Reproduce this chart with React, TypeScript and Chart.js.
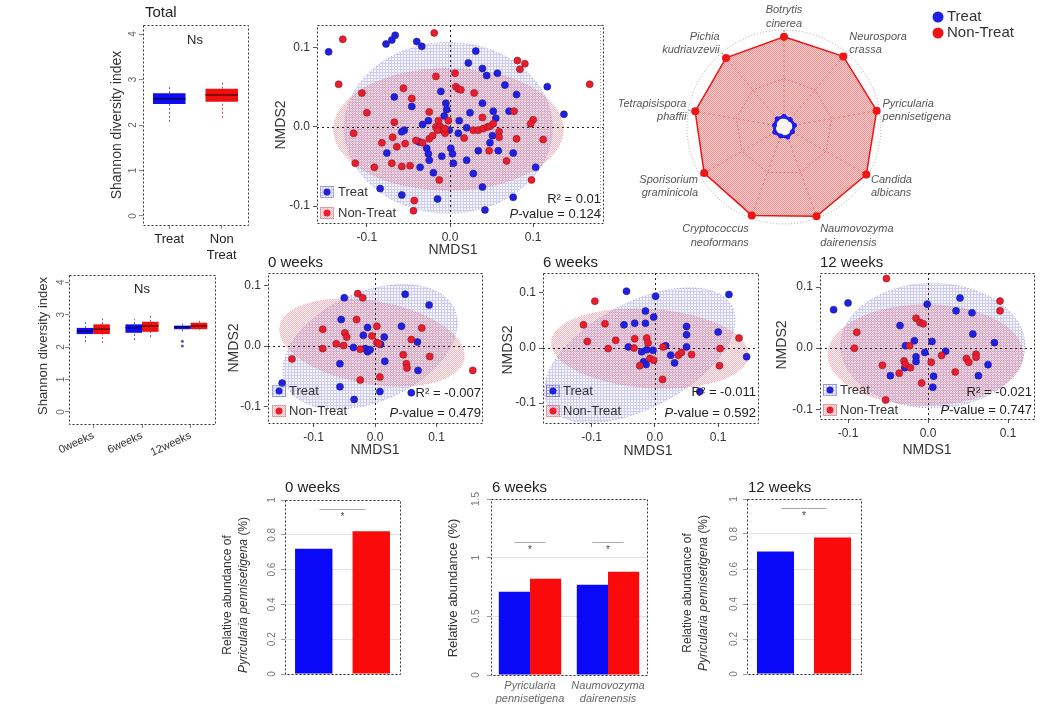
import React, { useEffect, useRef } from "react";
import { Chart, registerables } from "chart.js";

Chart.register(...registerables);

const FONT = "'Liberation Sans', Arial, Helvetica, sans-serif";
Chart.defaults.font.family = FONT;

/* ======================= DATA ======================= */
// Shannon diversity boxplots: [lowerWhisker, q1, median, q3, upperWhisker]
const totalGroups = ["Treat", ["Non", "Treat"]];
const totalTreatBox = [2.07, 2.46, 2.58, 2.7, 2.86];
const totalNonTreatBox = [2.16, 2.51, 2.66, 2.8, 2.97];
const shannonTicks = [0, 1, 2, 3, 4];

const timeGroups = ["0weeks", "6weeks", "12weeks"];
const timeTreatBoxes = [
  [2.15, 2.4, 2.49, 2.59, 2.83],
  [2.22, 2.44, 2.6, 2.7, 2.86],
  [2.48, 2.55, 2.62, 2.66, 2.78],
];
const timeNonTreatBoxes = [
  [2.12, 2.4, 2.55, 2.7, 2.89],
  [2.3, 2.47, 2.65, 2.78, 2.98],
  [2.52, 2.55, 2.65, 2.75, 2.83],
];
const timeTreatOutliers = [[], [], [2.18, 2.03]];
const timeNonTreatOutliers = [[], [], []];

// NMDS ordinations
const nmdsTicks = [-0.1, 0, 0.1];
const totalTreat = [
  [-0.146, 0.095], [-0.077, 0.105], [-0.07, 0.11], [-0.066, 0.116], [-0.04, 0.108], [-0.034, 0.102],
  [0.031, 0.096], [0.022, 0.081], [0.039, 0.074], [0.044, 0.065], [0.057, 0.068], [0.066, 0.053],
  [0.08, 0.041], [0.117, 0.051], [0.137, 0.016], [-0.067, 0.038], [-0.046, 0.026], [-0.011, 0.045],
  [-0.005, 0.03], [-0.004, 0.022], [-0.007, 0.014], [0.024, 0.018], [0.039, 0.03], [0.052, 0.02],
  [0.055, 0.011], [0.071, 0.02], [-0.055, -0.004], [-0.058, -0.006], [-0.033, 0.003], [-0.026, 0.008],
  [-0.001, -0.004], [0.011, 0.008], [0.01, -0.008], [0.02, -0.001], [-0.076, -0.033], [-0.037, -0.019],
  [-0.028, -0.027], [-0.026, -0.034], [-0.025, -0.042], [-0.01, -0.037], [0.001, -0.027], [0.003, -0.034],
  [0.004, -0.046], [0.02, -0.042], [0.034, -0.03], [0.048, -0.02], [0.058, -0.03], [0.076, -0.033],
  [-0.036, -0.051], [-0.02, -0.058], [0.028, -0.059], [0.039, -0.076], [0.103, -0.051], [-0.084, -0.078],
  [-0.058, -0.086], [-0.015, -0.091], [0.042, -0.105], [0.076, -0.089], [0.051, -0.011],
];
const totalNonTreat = [
  [-0.129, 0.111], [-0.019, 0.119], [-0.134, 0.054], [-0.106, 0.043], [-0.1, 0.018], [-0.116, -0.008],
  [-0.114, -0.046], [-0.091, -0.051], [-0.067, 0.006], [-0.056, 0.049], [-0.046, 0.036], [-0.069, -0.013],
  [-0.064, -0.025], [-0.082, -0.02], [-0.07, -0.046], [-0.058, -0.05], [-0.048, -0.049], [-0.054, -0.021],
  [-0.041, -0.017], [-0.033, -0.02], [-0.025, -0.015], [-0.021, -0.011], [-0.025, 0.019], [-0.017, 0.064],
  [-0.017, 0.0], [-0.012, 0.001], [-0.009, -0.004], [-0.006, -0.008], [-0.014, 0.008], [-0.002, 0.008],
  [0.006, 0.068], [0.007, 0.051], [0.01, 0.048], [0.013, 0.047], [0.029, 0.043], [0.039, 0.012],
  [0.028, -0.004], [0.034, -0.004], [0.04, -0.002], [0.045, 0.0], [0.048, 0.001], [0.052, 0.004],
  [0.059, -0.006], [0.059, -0.013], [0.017, -0.014], [0.047, -0.03], [0.068, -0.043], [0.08, -0.015],
  [0.077, 0.02], [0.1, 0.009], [0.097, 0.004], [0.112, -0.016], [0.081, 0.084], [0.09, 0.08],
  [0.084, 0.073], [0.168, 0.054], [0.098, -0.067], [-0.013, -0.067], [-0.043, -0.093], [-0.044, -0.106],
  [-0.006, -0.002], [-0.015, -0.004],
];
// ellipses: [centerX, centerY, radiusX, radiusY, angleDeg]
const totalEllTreat = [-0.002, -0.001, 0.125, 0.108, 0];
const totalEllNonTreat = [-0.002, -0.003, 0.138, 0.077, 0];
const totalStats = ["0.01", "0.124"];

const w0Treat = [
  [-0.05, 0.08], [0.049, 0.086], [0.088, 0.068], [-0.055, 0.044], [-0.012, 0.031], [-0.019, 0.018],
  [0.015, 0.015], [0.009, 0.003], [0.043, 0.033], [0.069, 0.007], [-0.035, -0.002], [-0.016, -0.004],
  [-0.012, -0.009], [-0.008, -0.006], [0.016, -0.025], [-0.057, -0.029], [0.07, -0.04], [-0.057, -0.067],
  [0.008, -0.075], [-0.034, -0.088], [0.059, -0.077], [-0.151, -0.061],
];
const w0NonTreat = [
  [-0.028, 0.087], [-0.02, 0.08], [-0.03, 0.044], [0.003, 0.033], [0.076, 0.03], [-0.085, 0.028],
  [-0.049, 0.022], [-0.046, 0.015], [-0.005, 0.017], [0.003, 0.006], [0.006, 0.004], [0.059, 0.011],
  [-0.063, 0.004], [-0.051, 0.001], [-0.085, -0.004], [-0.024, -0.005], [0.046, -0.014], [0.089, -0.017],
  [0.051, -0.029], [0.052, -0.036], [0.008, -0.051], [-0.024, -0.056], [-0.135, -0.021], [0.159, -0.04],
];
const w0EllTreat = [-0.008, -0.001, 0.15, 0.09, 24];
const w0EllNonTreat = [-0.005, 0.006, 0.152, 0.068, -10];
const w0Stats = ["-0.007", "0.479"];

const w6Treat = [
  [-0.045, 0.103], [0.001, 0.094], [0.117, 0.097], [-0.015, 0.067], [-0.002, 0.056], [-0.049, 0.042],
  [-0.032, 0.045], [-0.015, 0.045], [0.05, 0.039], [0.05, 0.024], [0.1, 0.029], [-0.042, 0.002],
  [-0.021, -0.007], [-0.013, -0.003], [-0.003, -0.004], [0.017, 0.004], [0.025, -0.013], [0.031, -0.027],
  [0.05, 0.002], [-0.018, -0.025], [-0.014, -0.03], [0.145, -0.016], [0.071, -0.079],
];
const w6NonTreat = [
  [-0.095, 0.085], [-0.113, 0.042], [-0.079, 0.044], [-0.107, 0.012], [-0.062, 0.014], [-0.074, -0.001],
  [-0.032, 0.017], [-0.013, 0.018], [-0.011, 0.009], [-0.033, 0.0], [-0.008, -0.019], [-0.002, -0.022],
  [-0.024, -0.032], [0.012, -0.057], [0.013, 0.002], [0.037, -0.013], [0.042, -0.008], [0.058, -0.012],
  [0.103, -0.001], [0.102, -0.032], [0.133, 0.018],
];
const w6EllTreat = [-0.024, -0.013, 0.165, 0.095, 28];
const w6EllNonTreat = [-0.008, -0.001, 0.156, 0.071, -4];
const w6Stats = ["-0.011", "0.592"];

const w12Treat = [
  [-0.118, 0.063], [-0.1, 0.074], [-0.001, 0.072], [0.04, 0.082], [0.035, 0.061], [0.055, 0.058],
  [-0.035, 0.037], [0.056, 0.023], [0.083, 0.009], [0.005, 0.011], [-0.017, 0.012], [-0.028, 0.004],
  [-0.004, -0.007], [-0.015, -0.014], [-0.015, -0.022], [0.022, -0.005], [-0.029, -0.032], [-0.047, -0.045],
  [0.007, -0.046], [0.006, -0.064], [0.075, -0.027], [0.063, -0.045],
];
const w12NonTreat = [
  [-0.052, 0.114], [0.09, 0.077], [0.09, 0.061], [-0.015, 0.049], [-0.01, 0.042], [-0.006, 0.04],
  [-0.089, 0.026], [-0.092, 0.0], [-0.023, 0.004], [-0.03, -0.021], [-0.028, -0.027], [-0.022, -0.032],
  [-0.036, -0.041], [-0.057, -0.028], [0.004, -0.023], [0.017, -0.012], [0.034, -0.039], [0.048, -0.017],
  [0.051, -0.023], [0.06, -0.01], [0.06, -0.015], [-0.008, -0.057], [-0.053, -0.085],
];
const w12EllTreat = [0.006, 0.004, 0.115, 0.102, 0];
const w12EllNonTreat = [-0.003, -0.011, 0.122, 0.082, 0];
const w12Stats = ["-0.021", "0.747"];

// Radar
const radarLabels = [
  ["Botrytis", "cinerea"],
  ["Neurospora", "crassa"],
  ["Pyricularia", "pennisetigena"],
  ["Candida", "albicans"],
  ["Naumovozyma", "dairenensis"],
  ["Cryptococcus", "neoformans"],
  ["Sporisorium", "graminicola"],
  ["Tetrapisispora", "phaffii"],
  ["Pichia", "kudriavzevii"],
];
const radarTreat = [0.11, 0.1, 0.11, 0.1, 0.11, 0.1, 0.11, 0.1, 0.11];
const radarNonTreat = [0.93, 0.95, 0.97, 0.98, 0.98, 0.97, 0.95, 0.93, 0.93];

// Relative abundance bars
const w0BarGroups = ["Treat", "Non-Treat"];
const w0BarValues = [0.72, 0.82];
const w0SigY = 0.95;
const w0SigLabel = "*";
const barTicks01 = [0, 0.2, 0.4, 0.6, 0.8, 1];

const w6Species = [["Pyricularia", "pennisetigena"], ["Naumovozyma", "dairenensis"]];
const w6BarTreat = [0.71, 0.77];
const w6BarNonTreat = [0.82, 0.88];
const w6SigY = 1.13;
const w6SigLabels = ["*", "*"];
const barTicks15 = [0, 0.5, 1, 1.5];

const w12BarGroups = ["Treat", "Non-Treat"];
const w12BarValues = [0.7, 0.78];
const w12SigY = 0.95;
const w12SigLabel = "*";

/* ======================= STYLE / LAYOUT ======================= */
const TREAT = "#2020e0";
const TREAT_EDGE = "#1a1a9a";
const NON = "#e61e2d";
const NON_EDGE = "#a01020";
const BLUE_BOX = "#0d0df0";
const RED_BOX = "#f01010";
const BLUE_BAR = "#0a0af8";
const RED_BAR = "#fa0a0a";

type Box = { left: number; top: number; width: number; height: number };
type Plot = { x1: number; y1: number; x2: number; y2: number };
type Run = string | { t: string; i?: boolean };
type TextItem = {
  runs: Run[];
  x: number;
  y: number;
  size: number;
  color?: string;
  align?: "left" | "center" | "right";
  rot?: number;
  italic?: boolean;
};

function drawTextC(ctx: CanvasRenderingContext2D, it: TextItem) {
  ctx.save();
  ctx.translate(it.x, it.y);
  if (it.rot) ctx.rotate((it.rot * Math.PI) / 180);
  const runs = it.runs.map((r) =>
    typeof r === "string" ? { t: r, i: it.italic } : { t: r.t, i: r.i ?? it.italic }
  );
  const fontOf = (i?: boolean) => `${i ? "italic " : ""}${it.size}px ${FONT}`;
  let total = 0;
  const ws = runs.map((r) => {
    ctx.font = fontOf(r.i);
    const w = ctx.measureText(r.t).width;
    total += w;
    return w;
  });
  let x = it.align === "center" ? -total / 2 : it.align === "right" ? -total : 0;
  ctx.textBaseline = "middle";
  ctx.textAlign = "left";
  ctx.fillStyle = it.color ?? "#222";
  runs.forEach((r, k) => {
    ctx.font = fontOf(r.i);
    ctx.fillText(r.t, x, 0);
    x += ws[k];
  });
  ctx.restore();
}

const toCanvas = (box: Box, it: TextItem): TextItem => ({ ...it, x: it.x - box.left, y: it.y - box.top });

let PATS: any = null;
function pats() {
  if (PATS) return PATS;
  const make = (tile: (string | null)[][]) => {
    const n = tile.length;
    const c = document.createElement("canvas");
    c.width = n;
    c.height = n;
    const g = c.getContext("2d")!;
    for (let y = 0; y < n; y++)
      for (let x = 0; x < n; x++) {
        const col = tile[y][x];
        if (col) {
          g.fillStyle = col;
          g.fillRect(x, y, 1, 1);
        }
      }
    return g.createPattern(c, "repeat");
  };
  const B = "rgba(90,90,205,0.3)";
  const Lb = "rgba(190,190,240,0.12)";
  const R = "rgba(222,70,90,0.36)";
  const Pk = "rgba(240,175,185,0.2)";
  const RR = "rgba(228,70,70,0.6)";
  const RP = "rgba(245,178,178,0.6)";
  PATS = {
    blue: make([[B, B, B], [B, Lb, Lb], [B, Lb, Lb]]),
    red: make([[R, Pk], [Pk, R]]),
    radar: make([[RR, RP], [RP, RR]]),
  };
  return PATS;
}

function decor(box: Box, texts: TextItem[], before: ((c: any) => void) | null, after: ((c: any) => void) | null) {
  return {
    id: "decor",
    beforeDatasetsDraw(chart: any) {
      if (before) before(chart);
    },
    afterDraw(chart: any) {
      if (after) after(chart);
      texts.forEach((t) => drawTextC(chart.ctx, toCanvas(box, t)));
    },
  };
}

function drawFrame(chart: any) {
  const { ctx, chartArea: a } = chart;
  ctx.save();
  ctx.strokeStyle = "#333";
  ctx.lineWidth = 1;
  ctx.setLineDash([2, 2]);
  ctx.strokeRect(Math.round(a.left) + 0.5, Math.round(a.top) + 0.5, Math.round(a.right - a.left), Math.round(a.bottom - a.top));
  ctx.restore();
}

function drawZero(chart: any) {
  const { ctx, chartArea: a, scales } = chart;
  const x0 = Math.round(scales.x.getPixelForValue(0)) + 0.5;
  const y0 = Math.round(scales.y.getPixelForValue(0)) + 0.5;
  ctx.save();
  ctx.strokeStyle = "#222";
  ctx.lineWidth = 1;
  ctx.setLineDash([2, 3]);
  ctx.beginPath();
  ctx.moveTo(x0, a.top);
  ctx.lineTo(x0, a.bottom);
  ctx.moveTo(a.left, y0);
  ctx.lineTo(a.right, y0);
  ctx.stroke();
  ctx.restore();
}

function drawEllipses(chart: any, list: { e: number[]; fill: any; stroke: string }[]) {
  const { ctx, chartArea: a, scales } = chart;
  const xs = scales.x, ys = scales.y;
  ctx.save();
  ctx.beginPath();
  ctx.rect(a.left, a.top, a.right - a.left, a.bottom - a.top);
  ctx.clip();
  list.forEach(({ e, fill, stroke }) => {
    const [cx, cy, rx, ry, ang] = e;
    const px = xs.getPixelForValue(cx);
    const py = ys.getPixelForValue(cy);
    const prx = Math.abs(xs.getPixelForValue(cx + rx) - px);
    const pry = Math.abs(ys.getPixelForValue(cy + ry) - py);
    ctx.beginPath();
    ctx.ellipse(px, py, prx, pry, (-ang * Math.PI) / 180, 0, Math.PI * 2);
    ctx.fillStyle = fill;
    ctx.fill();
    ctx.setLineDash([1, 2]);
    ctx.strokeStyle = stroke;
    ctx.lineWidth = 1;
    ctx.stroke();
  });
  ctx.restore();
}

function drawRotTicks(chart: any, values: number[], dx: number, size: number, color: string) {
  const { ctx, chartArea: a, scales } = chart;
  values.forEach((v) =>
    drawTextC(ctx, { runs: [String(v)], x: a.left - dx, y: scales.y.getPixelForValue(v), size, color, align: "center", rot: -90 })
  );
}

function drawBoxParts(chart: any, sets: { boxes: (number[] | null)[]; outliers: number[][]; line: string; med: string }[]) {
  const { ctx, scales } = chart;
  const ys = scales.y;
  sets.forEach((s, di) => {
    const meta = chart.getDatasetMeta(di);
    s.boxes.forEach((b, j) => {
      if (!b) return;
      const el = meta.data[j];
      if (!el) return;
      const x = Math.round(el.x) + 0.5;
      const w = el.width;
      const [lo, q1, md, q3, hi] = b;
      ctx.save();
      ctx.strokeStyle = s.line;
      ctx.lineWidth = 1;
      ctx.setLineDash([2, 2]);
      ctx.beginPath();
      ctx.moveTo(x, ys.getPixelForValue(lo));
      ctx.lineTo(x, ys.getPixelForValue(q1));
      ctx.moveTo(x, ys.getPixelForValue(q3));
      ctx.lineTo(x, ys.getPixelForValue(hi));
      ctx.stroke();
      ctx.setLineDash([]);
      ctx.strokeStyle = s.med;
      ctx.lineWidth = 1.5;
      const ym = ys.getPixelForValue(md);
      ctx.beginPath();
      ctx.moveTo(el.x - w / 2, ym);
      ctx.lineTo(el.x + w / 2, ym);
      ctx.stroke();
      (s.outliers[j] || []).forEach((o) => {
        ctx.beginPath();
        ctx.arc(el.x, ys.getPixelForValue(o), 1.5, 0, Math.PI * 2);
        ctx.fillStyle = s.line;
        ctx.fill();
      });
      ctx.restore();
    });
  });
}

function drawSig(chart: any, pairs: { a: number[]; b: number[]; y: number; label: string; f: number }[]) {
  const { ctx, scales } = chart;
  pairs.forEach((p) => {
    const ea = chart.getDatasetMeta(p.a[0]).data[p.a[1]];
    const eb = chart.getDatasetMeta(p.b[0]).data[p.b[1]];
    const d = eb.x - ea.x;
    const x1 = ea.x + p.f * d;
    const x2 = eb.x - p.f * d;
    const yy = Math.round(scales.y.getPixelForValue(p.y)) + 0.5;
    ctx.save();
    ctx.strokeStyle = "#aaa";
    ctx.lineWidth = 1;
    ctx.beginPath();
    ctx.moveTo(x1, yy);
    ctx.lineTo(x2, yy);
    ctx.stroke();
    ctx.restore();
    drawTextC(ctx, { runs: [p.label], x: (x1 + x2) / 2, y: yy + 8, size: 10, color: "#444", align: "center" });
  });
}

function drawNmdsLegend(chart: any, box: Box, lg: number[]) {
  const [lx, y1, y2, tx] = lg;
  const P = pats();
  const ctx = chart.ctx;
  const rows: [number, string, any, string, string][] = [
    [y1, "Treat", P.blue, TREAT, "rgba(60,60,200,0.8)"],
    [y2, "Non-Treat", P.red, NON, "rgba(210,60,70,0.8)"],
  ];
  rows.forEach(([yy, label, pat, col, edge]) => {
    const cx = lx - box.left;
    const cy = yy - box.top;
    ctx.save();
    ctx.fillStyle = pat;
    ctx.fillRect(cx - 7, cy - 6, 14, 12);
    ctx.setLineDash([1, 1]);
    ctx.strokeStyle = edge;
    ctx.lineWidth = 1;
    ctx.strokeRect(cx - 6.5, cy - 5.5, 13, 11);
    ctx.setLineDash([]);
    ctx.beginPath();
    ctx.arc(cx, cy, 3.5, 0, Math.PI * 2);
    ctx.fillStyle = col;
    ctx.fill();
    ctx.restore();
    drawTextC(ctx, { runs: [label], x: tx - box.left, y: cy, size: 13, color: "#333", align: "left" });
  });
}

function cartesianBase(box: Box, plot: Plot) {
  return {
    responsive: false,
    animation: false,
    events: [],
    layout: { padding: { left: 0, top: plot.y1 - box.top, right: box.left + box.width - plot.x2, bottom: 0 } },
    plugins: { legend: { display: false }, tooltip: { enabled: false } },
  };
}
const fitH = (box: Box, plot: Plot) => (s: any) => {
  s.height = box.top + box.height - plot.y2;
};
const fitW = (box: Box, plot: Plot) => (s: any) => {
  s.width = plot.x1 - box.left;
};
const setTicks = (vals: number[]) => (s: any) => {
  s.ticks = vals.map((v) => ({ value: v }));
};

/* ======================= PANELS ======================= */
const P1_BOX: Box = { left: 95, top: 0, width: 165, height: 270 };
const P1_PLOT: Plot = { x1: 143, y1: 25, x2: 248, y2: 225 };

function totalBoxConfig() {
  const box = P1_BOX, plot = P1_PLOT;
  const treatBoxes = [totalTreatBox, null];
  const nonBoxes = [null, totalNonTreatBox];
  const texts: TextItem[] = [
    { runs: ["Total"], x: 145, y: 13, size: 15, align: "left" },
    { runs: ["Ns"], x: 195, y: 40, size: 13, align: "center" },
    { runs: ["Shannon diversity index"], x: 117, y: 125, size: 14, rot: -90, align: "center", color: "#333" },
  ];
  return {
    type: "bar",
    data: {
      labels: totalGroups,
      datasets: [
        { label: "Treat", data: treatBoxes.map((b) => (b ? [b[1], b[3]] : null)), backgroundColor: BLUE_BOX, grouped: false, barPercentage: 0.62, categoryPercentage: 1 },
        { label: "Non-Treat", data: nonBoxes.map((b) => (b ? [b[1], b[3]] : null)), backgroundColor: RED_BOX, grouped: false, barPercentage: 0.62, categoryPercentage: 1 },
      ],
    },
    options: {
      ...cartesianBase(box, plot),
      scales: {
        x: {
          grid: { offset: false, drawOnChartArea: false, tickLength: 4, color: "#888" },
          border: { display: false },
          ticks: { font: { family: FONT, size: 13 }, color: "#222", padding: 3 },
          afterFit: fitH(box, plot),
        },
        y: {
          min: -0.2,
          max: 4.2,
          afterBuildTicks: setTicks(shannonTicks),
          ticks: { display: false },
          grid: { drawOnChartArea: false, tickLength: 4, color: "#888" },
          border: { display: false },
          afterFit: fitW(box, plot),
        },
      },
    },
    plugins: [
      decor(box, texts, null, (c) => {
        drawBoxParts(c, [
          { boxes: treatBoxes, outliers: [[], []], line: "rgba(70,70,170,0.9)", med: "#000066" },
          { boxes: nonBoxes, outliers: [[], []], line: "rgba(170,70,70,0.9)", med: "#660000" },
        ]);
        drawFrame(c);
        drawRotTicks(c, shannonTicks, 10, 10, "#666");
      }),
    ],
  };
}

const P4_BOX: Box = { left: 28, top: 270, width: 200, height: 190 };
const P4_PLOT: Plot = { x1: 69, y1: 275, x2: 215, y2: 424 };

function timeBoxConfig() {
  const box = P4_BOX, plot = P4_PLOT;
  const texts: TextItem[] = [
    { runs: ["Ns"], x: 142, y: 289, size: 13, align: "center" },
    { runs: ["Shannon diversity index"], x: 43, y: 346, size: 13, rot: -90, align: "center", color: "#333" },
  ];
  return {
    type: "bar",
    data: {
      labels: timeGroups,
      datasets: [
        { label: "Treat", data: timeTreatBoxes.map((b) => [b[1], b[3]]), backgroundColor: BLUE_BOX, barPercentage: 1, categoryPercentage: 0.68 },
        { label: "Non-Treat", data: timeNonTreatBoxes.map((b) => [b[1], b[3]]), backgroundColor: RED_BOX, barPercentage: 1, categoryPercentage: 0.68 },
      ],
    },
    options: {
      ...cartesianBase(box, plot),
      scales: {
        x: {
          grid: { offset: false, drawOnChartArea: false, tickLength: 4, color: "#888" },
          border: { display: false },
          ticks: { font: { family: FONT, size: 11 }, color: "#333", padding: 1, minRotation: 25, maxRotation: 25, autoSkip: false },
          afterFit: fitH(box, plot),
        },
        y: {
          min: -0.37,
          max: 4.22,
          afterBuildTicks: setTicks(shannonTicks),
          ticks: { display: false },
          grid: { drawOnChartArea: false, tickLength: 4, color: "#888" },
          border: { display: false },
          afterFit: fitW(box, plot),
        },
      },
    },
    plugins: [
      decor(box, texts, null, (c) => {
        drawBoxParts(c, [
          { boxes: timeTreatBoxes, outliers: timeTreatOutliers, line: "rgba(70,70,170,0.9)", med: "#000066" },
          { boxes: timeNonTreatBoxes, outliers: timeNonTreatOutliers, line: "rgba(170,70,70,0.9)", med: "#660000" },
        ]);
        drawFrame(c);
        drawRotTicks(c, shannonTicks, 8, 10, "#666");
      }),
    ],
  };
}

type NmdsSpec = {
  box: Box;
  plot: Plot;
  xr: number[];
  yr: number[];
  treat: number[][];
  non: number[][];
  ellT: number[];
  ellN: number[];
  stats: string[];
  title: string | null;
  titlePos: number[];
  xTitle: number[];
  yTitle: number[];
  statsPos: number[];
  legend: number[];
};

function nmdsConfig(s: NmdsSpec) {
  const P = pats();
  const texts: TextItem[] = [
    { runs: ["NMDS1"], x: s.xTitle[0], y: s.xTitle[1], size: 14, align: "center", color: "#333" },
    { runs: ["NMDS2"], x: s.yTitle[0], y: s.yTitle[1], size: 14, align: "center", rot: -90, color: "#333" },
    { runs: [`R² = ${s.stats[0]}`], x: s.statsPos[0], y: s.statsPos[1], size: 13, align: "right", color: "#222" },
    { runs: [{ t: "P", i: true }, `-value = ${s.stats[1]}`], x: s.statsPos[0], y: s.statsPos[2], size: 13, align: "right", color: "#222" },
  ];
  if (s.title) texts.push({ runs: [s.title], x: s.titlePos[0], y: s.titlePos[1], size: 15, align: "left" });
  const tickOpts = { font: { family: FONT, size: 12 }, color: "#333", padding: 3, callback: (v: number) => v.toFixed(1) };
  return {
    type: "scatter",
    data: {
      datasets: [
        { label: "Non-Treat", data: s.non.map(([x, y]) => ({ x, y })), backgroundColor: NON, borderColor: NON_EDGE, borderWidth: 0.6, pointRadius: 3.5 },
        { label: "Treat", data: s.treat.map(([x, y]) => ({ x, y })), backgroundColor: TREAT, borderColor: TREAT_EDGE, borderWidth: 0.6, pointRadius: 3.5 },
      ],
    },
    options: {
      ...cartesianBase(s.box, s.plot),
      scales: {
        x: {
          type: "linear",
          min: s.xr[0],
          max: s.xr[1],
          afterBuildTicks: setTicks(nmdsTicks),
          ticks: tickOpts,
          grid: { drawOnChartArea: false, tickLength: 4, color: "#555" },
          border: { display: false },
          afterFit: fitH(s.box, s.plot),
        },
        y: {
          type: "linear",
          min: s.yr[0],
          max: s.yr[1],
          afterBuildTicks: setTicks(nmdsTicks),
          ticks: tickOpts,
          grid: { drawOnChartArea: false, tickLength: 4, color: "#555" },
          border: { display: false },
          afterFit: fitW(s.box, s.plot),
        },
      },
    },
    plugins: [
      decor(
        s.box,
        texts,
        (c) => {
          drawEllipses(c, [
            { e: s.ellT, fill: P.blue, stroke: "rgba(80,80,200,0.45)" },
            { e: s.ellN, fill: P.red, stroke: "rgba(200,80,90,0.45)" },
          ]);
          drawZero(c);
        },
        (c) => {
          drawFrame(c);
          drawNmdsLegend(c, s.box, s.legend);
        }
      ),
    ],
  };
}

const nmdsSpecs: NmdsSpec[] = [
  {
    box: { left: 265, top: 0, width: 345, height: 262 },
    plot: { x1: 317, y1: 25, x2: 603, y2: 223 },
    xr: [-0.16, 0.184],
    yr: [-0.1215, 0.129],
    treat: totalTreat,
    non: totalNonTreat,
    ellT: totalEllTreat,
    ellN: totalEllNonTreat,
    stats: totalStats,
    title: null,
    titlePos: [0, 0],
    xTitle: [453, 250],
    yTitle: [281, 125],
    statsPos: [601, 199, 214],
    legend: [327, 192, 213, 338],
  },
  {
    box: { left: 225, top: 252, width: 265, height: 210 },
    plot: { x1: 268, y1: 273, x2: 482, y2: 423 },
    xr: [-0.174, 0.174],
    yr: [-0.127, 0.121],
    treat: w0Treat,
    non: w0NonTreat,
    ellT: w0EllTreat,
    ellN: w0EllNonTreat,
    stats: w0Stats,
    title: "0 weeks",
    titlePos: [268, 263],
    xTitle: [375, 450],
    yTitle: [234, 348],
    statsPos: [481, 393, 413],
    legend: [279, 391, 411, 289],
  },
  {
    box: { left: 495, top: 252, width: 270, height: 210 },
    plot: { x1: 543, y1: 273, x2: 758, y2: 423 },
    xr: [-0.177, 0.163],
    yr: [-0.136, 0.136],
    treat: w6Treat,
    non: w6NonTreat,
    ellT: w6EllTreat,
    ellN: w6EllNonTreat,
    stats: w6Stats,
    title: "6 weeks",
    titlePos: [543, 263],
    xTitle: [648, 451],
    yTitle: [508, 350],
    statsPos: [756, 392, 413],
    legend: [553, 391, 411, 563],
  },
  {
    box: { left: 775, top: 252, width: 288, height: 210 },
    plot: { x1: 820, y1: 273, x2: 1034, y2: 419 },
    xr: [-0.135, 0.1325],
    yr: [-0.116, 0.123],
    treat: w12Treat,
    non: w12NonTreat,
    ellT: w12EllTreat,
    ellN: w12EllNonTreat,
    stats: w12Stats,
    title: "12 weeks",
    titlePos: [820, 263],
    xTitle: [927, 450],
    yTitle: [782, 345],
    statsPos: [1032, 392, 410],
    legend: [830, 390, 410, 840],
  },
];

const RADAR_BOX: Box = { left: 598, top: 0, width: 465, height: 255 };

function radarConfig() {
  const box = RADAR_BOX;
  const P = pats();
  const texts: TextItem[] = [
    { runs: ["Treat"], x: 947, y: 17, size: 15, align: "left", color: "#333" },
    { runs: ["Non-Treat"], x: 947, y: 33, size: 15, align: "left", color: "#333" },
  ];
  return {
    type: "radar",
    data: {
      labels: radarLabels.map((l) => l.join(" ")),
      datasets: [
        { label: "Treat", data: radarTreat, borderColor: "#1f1fe6", backgroundColor: "rgba(255,255,255,0.9)", borderWidth: 3, pointRadius: 2.5, pointBackgroundColor: "#1f1fe6", pointBorderWidth: 0, fill: "origin" },
        { label: "Non-Treat", data: radarNonTreat, borderColor: "#ee1515", backgroundColor: P.radar, borderWidth: 1.5, pointRadius: 4, pointBackgroundColor: "#ee1515", pointBorderWidth: 0, fill: "origin" },
      ],
    },
    options: {
      responsive: false,
      animation: false,
      events: [],
      layout: { padding: { left: 89, top: 30, right: 182, bottom: 31 } },
      plugins: { legend: { display: false }, tooltip: { enabled: false } },
      scales: {
        r: {
          min: 0,
          max: 1,
          ticks: { display: false, stepSize: 0.5 },
          pointLabels: { display: false },
          grid: { circular: false, color: (c: any) => (c.index === 2 ? "rgba(0,0,0,0)" : "rgba(210,40,40,0.75)"), lineWidth: 1 },
          border: { dash: [2, 2] },
          angleLines: { color: "rgba(210,40,40,0.75)", borderDash: [2, 3], lineWidth: 1 },
        },
      },
    },
    plugins: [
      decor(
        box,
        texts,
        (c) => {
          const ctx = c.ctx;
          const r = c.scales.r;
          ctx.save();
          ctx.strokeStyle = "rgba(150,150,150,0.8)";
          ctx.lineWidth = 1;
          ctx.setLineDash([1, 2]);
          ctx.beginPath();
          ctx.arc(r.xCenter, r.yCenter, r.drawingArea, 0, Math.PI * 2);
          ctx.stroke();
          ctx.restore();
        },
        (c) => {
          const ctx = c.ctx;
          const r = c.scales.r;
          const n = radarLabels.length;
          radarLabels.forEach((lines, i) => {
            const ang = (i / n) * Math.PI * 2;
            const p = r.getPointPosition(i, r.drawingArea);
            const sn = Math.sin(ang), cs = Math.cos(ang);
            const align = Math.abs(sn) < 0.1 ? "center" : sn > 0 ? "left" : "right";
            const x = align === "center" ? p.x : sn > 0 ? p.x + 3 : p.x - 2;
            const cy = p.y + 3 - cs * 16;
            lines.forEach((ln, k) =>
              drawTextC(ctx, { runs: [ln], x, y: cy + (k - 0.5) * 13.5, size: 11, italic: true, color: "#555", align: align as any })
            );
          });
          [[17, "#1f1fe6"], [33, "#ee1515"]].forEach(([yy, col]) => {
            ctx.beginPath();
            ctx.arc(938 - box.left, (yy as number) - box.top, 5.5, 0, Math.PI * 2);
            ctx.fillStyle = col as string;
            ctx.fill();
          });
          ctx.save();
          ctx.strokeStyle = "#999";
          ctx.setLineDash([1, 2]);
          ctx.beginPath();
          ctx.moveTo(600.5 - box.left, 25);
          ctx.lineTo(600.5 - box.left, 217);
          ctx.stroke();
          ctx.restore();
        }
      ),
    ],
  };
}

const B0_BOX: Box = { left: 215, top: 475, width: 200, height: 244 };
const B0_PLOT: Plot = { x1: 285, y1: 500, x2: 400, y2: 674 };
const B6_BOX: Box = { left: 440, top: 475, width: 225, height: 244 };
const B6_PLOT: Plot = { x1: 491, y1: 499, x2: 647, y2: 675 };
const B12_BOX: Box = { left: 675, top: 475, width: 200, height: 244 };
const B12_PLOT: Plot = { x1: 747, y1: 499, x2: 861, y2: 674 };

function singleBarConfig(box: Box, plot: Plot, groups: string[], values: number[], sigY: number, sigLabel: string, texts: TextItem[]) {
  return {
    type: "bar",
    data: {
      labels: groups,
      datasets: [{ label: "abundance", data: values, backgroundColor: [BLUE_BAR, RED_BAR], barPercentage: 0.65, categoryPercentage: 1 }],
    },
    options: {
      ...cartesianBase(box, plot),
      scales: {
        x: { ticks: { display: false }, grid: { display: false }, border: { display: false }, afterFit: fitH(box, plot) },
        y: {
          min: 0,
          max: 1,
          afterBuildTicks: setTicks(barTicks01),
          ticks: { display: false },
          grid: { color: "#e4e4e4", tickColor: "#999", tickLength: 4 },
          border: { display: false },
          afterFit: fitW(box, plot),
        },
      },
    },
    plugins: [
      decor(box, texts, null, (c) => {
        drawFrame(c);
        drawRotTicks(c, barTicks01, 13, 10, "#777");
        drawSig(c, [{ a: [0, 0], b: [0, 1], y: sigY, label: sigLabel, f: 0.1 }]);
      }),
    ],
  };
}

function bar0Config() {
  const texts: TextItem[] = [
    { runs: ["0 weeks"], x: 285, y: 488, size: 15, align: "left" },
    { runs: ["Relative abundance of"], x: 228, y: 595, size: 12, rot: -90, align: "center", color: "#333" },
    { runs: [{ t: "Pyricularia pennisetigena", i: true }, " (%)"], x: 244, y: 595, size: 12, rot: -90, align: "center", color: "#333" },
  ];
  return singleBarConfig(B0_BOX, B0_PLOT, w0BarGroups, w0BarValues, w0SigY, w0SigLabel, texts);
}

function bar12Config() {
  const texts: TextItem[] = [
    { runs: ["12 weeks"], x: 748, y: 488, size: 15, align: "left" },
    { runs: ["Relative abundance of"], x: 688, y: 593, size: 12, rot: -90, align: "center", color: "#333" },
    { runs: [{ t: "Pyricularia pennisetigena", i: true }, " (%)"], x: 704, y: 593, size: 12, rot: -90, align: "center", color: "#333" },
  ];
  return singleBarConfig(B12_BOX, B12_PLOT, w12BarGroups, w12BarValues, w12SigY, w12SigLabel, texts);
}

function bar6Config() {
  const box = B6_BOX, plot = B6_PLOT;
  const texts: TextItem[] = [
    { runs: ["6 weeks"], x: 492, y: 488, size: 15, align: "left" },
    { runs: ["Relative abundance (%)"], x: 453, y: 588, size: 13, rot: -90, align: "center", color: "#333" },
  ];
  return {
    type: "bar",
    data: {
      labels: w6Species,
      datasets: [
        { label: "Treat", data: w6BarTreat, backgroundColor: BLUE_BAR, barPercentage: 1, categoryPercentage: 0.8 },
        { label: "Non-Treat", data: w6BarNonTreat, backgroundColor: RED_BAR, barPercentage: 1, categoryPercentage: 0.8 },
      ],
    },
    options: {
      ...cartesianBase(box, plot),
      scales: {
        x: {
          ticks: { font: { family: FONT, size: 11, style: "italic" }, color: "#666", padding: 4, autoSkip: false, minRotation: 0, maxRotation: 0 },
          grid: { display: false, drawTicks: false },
          border: { display: false },
          afterFit: fitH(box, plot),
        },
        y: {
          min: 0,
          max: 1.5,
          afterBuildTicks: setTicks(barTicks15),
          ticks: { display: false },
          grid: { color: "#e4e4e4", tickColor: "#999", tickLength: 4 },
          border: { display: false },
          afterFit: fitW(box, plot),
        },
      },
    },
    plugins: [
      decor(box, texts, null, (c) => {
        drawFrame(c);
        drawRotTicks(c, barTicks15, 15, 10, "#777");
        drawSig(c, [
          { a: [0, 0], b: [1, 0], y: w6SigY, label: w6SigLabels[0], f: 0 },
          { a: [0, 1], b: [1, 1], y: w6SigY, label: w6SigLabels[1], f: 0 },
        ]);
      }),
    ],
  };
}

/* ======================= REACT ======================= */
function ChartCanvas({ box, make }: { box: Box; make: () => any }) {
  const ref = useRef<HTMLCanvasElement>(null);
  useEffect(() => {
    const chart = new Chart(ref.current as HTMLCanvasElement, make());
    return () => chart.destroy();
  }, []);
  return (
    <canvas
      ref={ref}
      width={box.width}
      height={box.height}
      style={{ position: "absolute", left: box.left, top: box.top, width: box.width, height: box.height }}
    />
  );
}

export default function App() {
  return (
    <div style={{ position: "absolute", left: 0, top: 0, width: 1063, height: 719, background: "#fff", overflow: "hidden" }}>
      <ChartCanvas box={P1_BOX} make={totalBoxConfig} />
      <ChartCanvas box={nmdsSpecs[0].box} make={() => nmdsConfig(nmdsSpecs[0])} />
      <ChartCanvas box={RADAR_BOX} make={radarConfig} />
      <ChartCanvas box={P4_BOX} make={timeBoxConfig} />
      <ChartCanvas box={nmdsSpecs[1].box} make={() => nmdsConfig(nmdsSpecs[1])} />
      <ChartCanvas box={nmdsSpecs[2].box} make={() => nmdsConfig(nmdsSpecs[2])} />
      <ChartCanvas box={nmdsSpecs[3].box} make={() => nmdsConfig(nmdsSpecs[3])} />
      <ChartCanvas box={B0_BOX} make={bar0Config} />
      <ChartCanvas box={B6_BOX} make={bar6Config} />
      <ChartCanvas box={B12_BOX} make={bar12Config} />
    </div>
  );
}
